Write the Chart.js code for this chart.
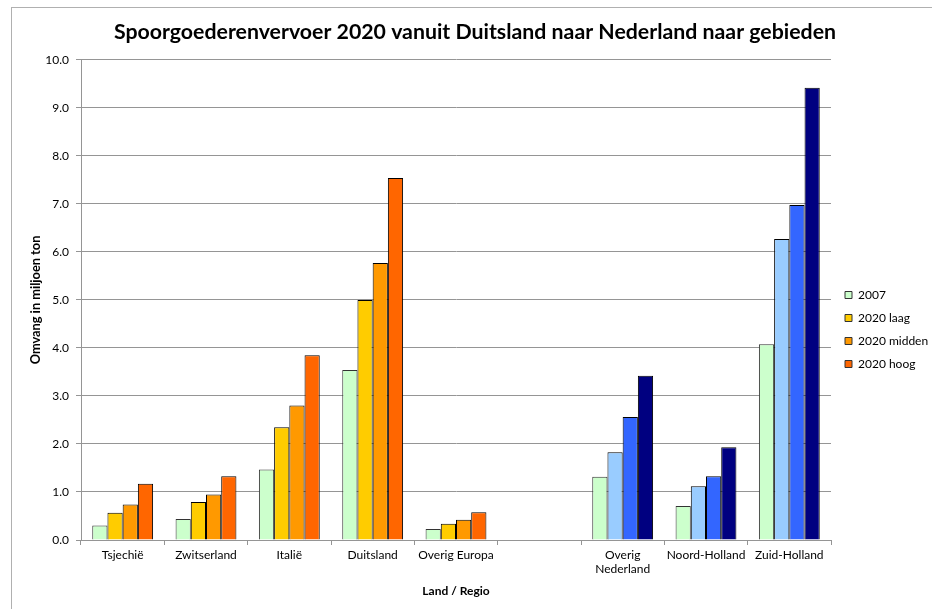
<!DOCTYPE html>
<html>
<head>
<meta charset="utf-8">
<script src="https://cdn.jsdelivr.net/npm/chart.js@4/dist/chart.umd.min.js"></script>
<style>
  html, body { margin: 0; padding: 0; background: #ffffff; overflow: hidden; }
  #wrap { position: relative; width: 932px; height: 609px; }
  #frame { position: absolute; left: 11px; top: 7px; width: 1000px; height: 700px; border: 1px solid #b0b0b0; box-sizing: border-box; pointer-events: none; }
  canvas { position: absolute; left: 0; top: 0; }
</style>
</head>
<body>
<div id="wrap">
  <div id="frame"></div>
  <canvas id="c" width="932" height="609"></canvas>
</div>
<script>
const categories = ['Tsjechië', 'Zwitserland', 'Italië', 'Duitsland', 'Overig Europa', '', ['Overig', 'Nederland'], 'Noord-Holland', 'Zuid-Holland'];
const seriesNames = ['2007', '2020 laag', '2020 midden', '2020 hoog'];
const values2007 = [0.30, 0.44, 1.47, 3.54, 0.23, null, 1.32, 0.71, 4.08];
const values2020Laag = [0.57, 0.79, 2.35, 5.00, 0.34, null, 1.83, 1.12, 6.27];
const values2020Midden = [0.74, 0.95, 2.80, 5.77, 0.42, null, 2.56, 1.33, 6.98];
const values2020Hoog = [1.17, 1.33, 3.85, 7.54, 0.58, null, 3.42, 1.93, 9.42];
const isNederland = [false, false, false, false, false, false, true, true, true];

const euroColors = ['#CCFFCC', '#FFCC00', '#FF9900', '#FF6600'];
const nlColors = ['#CCFFCC', '#99CCFF', '#3366FF', '#000080'];

const seriesValues = [values2007, values2020Laag, values2020Midden, values2020Hoog];

const datasets = seriesValues.map((vals, s) => ({
  label: seriesNames[s],
  data: vals,
  backgroundColor: isNederland.map(nl => nl ? nlColors[s] : euroColors[s]),
  borderColor: s === 0 ? '#333333' : '#000000',
  borderWidth: 1,
  categoryPercentage: 0.73,
  barPercentage: 1.0
}));

const gridGrey = '#959595';
const FONT = 'Lato, "Open Sans", sans-serif';

const placeBoxes = {
  id: 'placeBoxes',
  afterUpdate(chart) {
    const L = chart.legend;
    if (L) {
      const w = L.right - L.left, h = L.bottom - L.top;
      L.left = 834; L.right = 834 + w;
      L.top = 278; L.bottom = 278 + h;
    }
    const T = chart.titleBlock;
    if (T) {
      const w = T.right - T.left;
      T.left = 475 - w / 2; T.right = 475 + w / 2;
    }
  }
};

new Chart(document.getElementById('c'), {
  type: 'bar',
  data: { labels: categories, datasets: datasets },
  plugins: [placeBoxes],
  options: {
    responsive: false,
    animation: false,
    devicePixelRatio: 1,
    layout: { padding: { left: 0, right: 101, top: 0, bottom: 0 } },
    plugins: {
      title: {
        display: true,
        text: 'Spoorgoederenvervoer 2020 vanuit Duitsland naar Nederland naar gebieden',
        color: '#000000',
        font: { family: FONT, size: 21.3, weight: 'bold' },
        padding: { top: 19, bottom: 15.4 }
      },
      legend: {
        display: true,
        position: 'chartArea',
        align: 'start',
        labels: {
          color: '#000000',
          font: { family: FONT, size: 12 },
          boxWidth: 7,
          boxHeight: 7,
          padding: 11,
          generateLabels: () => seriesNames.map((n, i) => ({
            text: n,
            fillStyle: euroColors[i],
            strokeStyle: '#333333',
            lineWidth: 1,
            datasetIndex: i,
            hidden: false
          }))
        }
      },
      tooltip: { enabled: false }
    },
    scales: {
      x: {
        grid: { display: true, drawOnChartArea: false, drawTicks: true, tickLength: 5, color: gridGrey, offset: true },
        border: { display: true, color: gridGrey, width: 1 },
        ticks: { color: '#000000', font: { family: FONT, size: 12 }, padding: 3, maxRotation: 0, autoSkip: false },
        title: { display: true, text: 'Land / Regio', color: '#000000', font: { family: FONT, size: 12, weight: 'bold' }, padding: { top: 0, bottom: 11 } },
        afterFit: (s) => { s.height = 69; }
      },
      y: {
        min: 0,
        max: 10,
        ticks: { stepSize: 1, color: '#000000', font: { family: FONT, size: 12 }, padding: 7, callback: (v) => Number(v).toFixed(1) },
        grid: { color: gridGrey, drawTicks: true, tickLength: 5, lineWidth: 1 },
        border: { display: true, color: gridGrey, width: 1 },
        title: { display: true, text: 'Omvang in miljoen ton', color: '#000000', font: { family: FONT, size: 12.8, weight: 'bold' }, padding: { top: 28, bottom: 0 } },
        afterFit: (s) => { s.width = 81; }
      }
    }
  }
});
</script>
</body>
</html>
